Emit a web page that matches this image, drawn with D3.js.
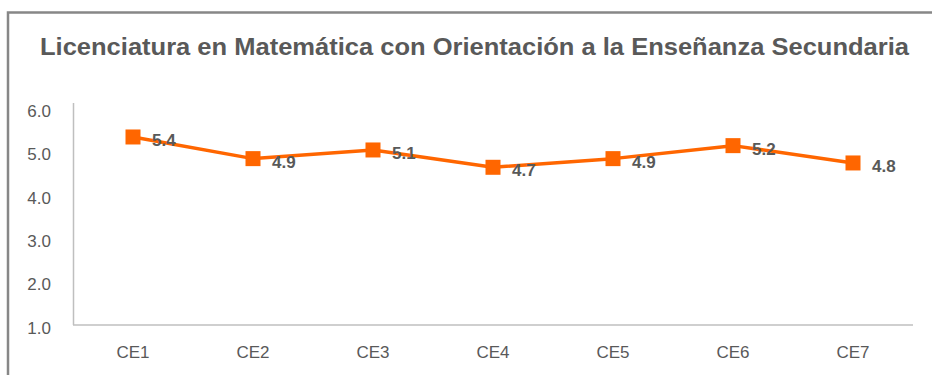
<!DOCTYPE html>
<html>
<head>
<meta charset="utf-8">
<script src="https://cdn.jsdelivr.net/npm/d3@7"></script>
<style>
  html, body { margin: 0; padding: 0; background: #fff; }
  svg { display: block; font-family: "Liberation Sans", Arial, sans-serif; }
</style>
</head>
<body>
<svg id="chart" width="932" height="375"></svg>
<script>
// Chart data
const titleText = "Licenciatura en Matemática con Orientación a la Enseñanza Secundaria";
const categories = ["CE1", "CE2", "CE3", "CE4", "CE5", "CE6", "CE7"];
const values = [5.4, 4.9, 5.1, 4.7, 4.9, 5.2, 4.8];
const yTicks = [1, 2, 3, 4, 5, 6];

const svg = d3.select("#chart");
const textColor = "#595959";
const lineColor = "#FF6600";

// Frame (top and left edges)
svg.append("path")
  .attr("d", "M8,375 L8,12.5 L932,12.5")
  .attr("fill", "none")
  .attr("stroke", "#878787")
  .attr("stroke-width", 2.5);

// Title
const title = svg.append("text")
  .attr("x", 40)
  .attr("y", 55)
  .attr("fill", textColor)
  .attr("font-size", 23)
  .attr("font-weight", "bold")
  .text(titleText);
title.attr("textLength", 869).attr("lengthAdjust", "spacingAndGlyphs");

// Scales
const x = d3.scalePoint().domain(categories).range([73, 913]).padding(0.5);
const y = d3.scaleLinear().domain([1, 6]).range([327.5, 111]);

// Axes lines
const axisColor = "#BFBFBF";
svg.append("line")
  .attr("x1", 73.5).attr("x2", 73.5)
  .attr("y1", 103).attr("y2", 325)
  .attr("stroke", axisColor).attr("stroke-width", 1.5);
svg.append("line")
  .attr("x1", 73).attr("x2", 913)
  .attr("y1", 325).attr("y2", 325)
  .attr("stroke", axisColor).attr("stroke-width", 1.5);

// Y tick labels
svg.append("g").selectAll("text")
  .data(yTicks)
  .join("text")
  .attr("x", 51)
  .attr("y", d => y(d) + 6)
  .attr("text-anchor", "end")
  .attr("fill", textColor)
  .attr("font-size", 17)
  .text(d => d3.format(".1f")(d));

// X category labels
svg.append("g").selectAll("text")
  .data(categories)
  .join("text")
  .attr("x", d => x(d))
  .attr("y", 358)
  .attr("text-anchor", "middle")
  .attr("fill", textColor)
  .attr("font-size", 17)
  .text(d => d);

const pts = categories.map((c, i) => ({ c, v: values[i] }));

// Series line
svg.append("path")
  .datum(pts)
  .attr("fill", "none")
  .attr("stroke", lineColor)
  .attr("stroke-width", 3.5)
  .attr("stroke-linejoin", "round")
  .attr("d", d3.line().x(d => x(d.c)).y(d => y(d.v)));

// Square markers
const ms = 15;
svg.append("g").selectAll("rect")
  .data(pts)
  .join("rect")
  .attr("x", d => x(d.c) - ms / 2)
  .attr("y", d => y(d.v) - ms / 2)
  .attr("width", ms)
  .attr("height", ms)
  .attr("fill", lineColor);

// Value labels
svg.append("g").selectAll("text")
  .data(pts)
  .join("text")
  .attr("x", d => x(d.c) + 19)
  .attr("y", d => y(d.v) + 9)
  .attr("fill", textColor)
  .attr("font-size", 17)
  .attr("font-weight", "bold")
  .text(d => d3.format(".1f")(d.v));
</script>
</body>
</html>
